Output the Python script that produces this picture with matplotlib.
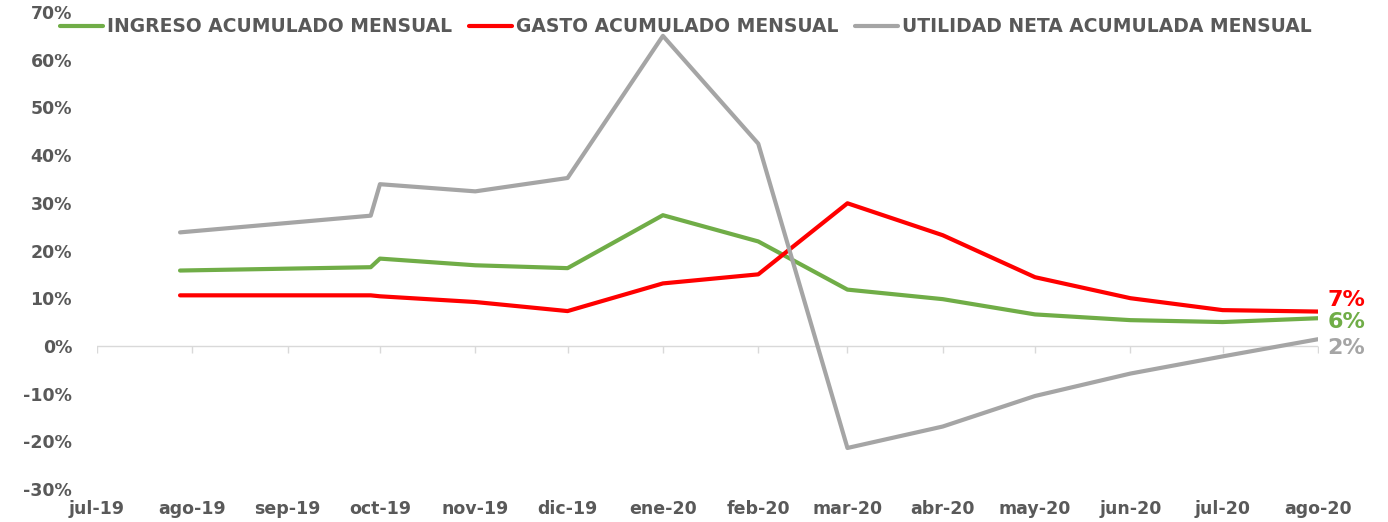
import matplotlib
matplotlib.use("Agg")
import matplotlib.pyplot as plt
import numpy as np
import pandas as pd

# data (values in %)
dates = pd.to_datetime([
    "2019-07-28", "2019-09-28", "2019-10-01", "2019-11-01", "2019-12-01",
    "2020-01-01", "2020-02-01", "2020-03-01", "2020-04-01", "2020-05-01",
    "2020-06-01", "2020-07-01", "2020-08-01",
])
ingreso = [15.8, 16.5, 18.3, 16.9, 16.3, 27.4, 21.9, 11.8, 9.8, 6.6, 5.4, 5.0, 5.8]
gasto = [10.6, 10.6, 10.4, 9.2, 7.3, 13.1, 15.0, 29.9, 23.2, 14.4, 10.0, 7.5, 7.2]
utilidad = [23.8, 27.3, 33.9, 32.4, 35.2, 65.0, 42.4, -21.4, -16.9, -10.5, -5.8, -2.2, 1.4]

tick_dates = pd.date_range("2019-07-01", "2020-08-01", freq="MS")
tick_labels = ["jul-19", "ago-19", "sep-19", "oct-19", "nov-19", "dic-19", "ene-20",
               "feb-20", "mar-20", "abr-20", "may-20", "jun-20", "jul-20", "ago-20"]
end_labels = ["7%", "6%", "2%"]

GREEN = "#70AD47"
RED = "#FF0000"
GRAY = "#A5A5A5"
TXT = "#595959"

plt.rcParams["font.family"] = ["DejaVu Sans"]
plt.rcParams["font.weight"] = "bold"

fig = plt.figure(figsize=(13.88, 5.22), dpi=100)
ax = fig.add_axes([97 / 1388, 1 - 489 / 522, (1318 - 97) / 1388, (489 - 12) / 522])

kw = dict(lw=3, solid_joinstyle="round", solid_capstyle="round", zorder=3)
l1, = ax.plot(dates, ingreso, color=GREEN, label="INGRESO ACUMULADO MENSUAL", **kw)
l2, = ax.plot(dates, gasto, color=RED, label="GASTO ACUMULADO MENSUAL", **kw)
l3, = ax.plot(dates, utilidad, color=GRAY, label="UTILIDAD NETA ACUMULADA MENSUAL", **kw)

# zero line with small downward ticks, like the Excel category axis
ax.axhline(0, color="#D9D9D9", lw=1, zorder=1)
ax.plot(tick_dates, np.zeros(len(tick_dates)), ls="none", marker=3, ms=5,
        mew=1, color="#D9D9D9", zorder=1)

# end-of-series labels
for series, lab, col, dy in zip([gasto, ingreso, utilidad], end_labels,
                                [RED, GREEN, GRAY], [8, -3, -6]):
    ax.annotate(lab, (dates[-1], series[-1]), xytext=(7, dy), textcoords="offset points",
                ha="left", va="center", color=col, fontsize=16, fontweight="bold")

ax.set_xlim(tick_dates[0], tick_dates[-1])
ax.set_ylim(-30, 70)
ax.set_yticks(np.arange(-30, 71, 10))
ax.set_yticklabels([f"{v}%" for v in range(-30, 71, 10)])
ax.set_xticks(tick_dates)
ax.set_xticklabels(tick_labels)
ax.tick_params(axis="both", length=0, labelsize=12.5, colors=TXT)
ax.tick_params(axis="y", pad=18)
ax.tick_params(axis="x", pad=8)
for s in ax.spines.values():
    s.set_visible(False)

fig.legend(handles=[l1, l2, l3], loc="center", bbox_to_anchor=(686 / 1388, 1 - 27 / 522),
           ncol=3, frameon=False, prop={"size": 13.5, "weight": "bold"},
           handlelength=2.3, handletextpad=0.2, columnspacing=0.9, labelcolor=TXT)

fig.savefig("out.png", dpi=100)
